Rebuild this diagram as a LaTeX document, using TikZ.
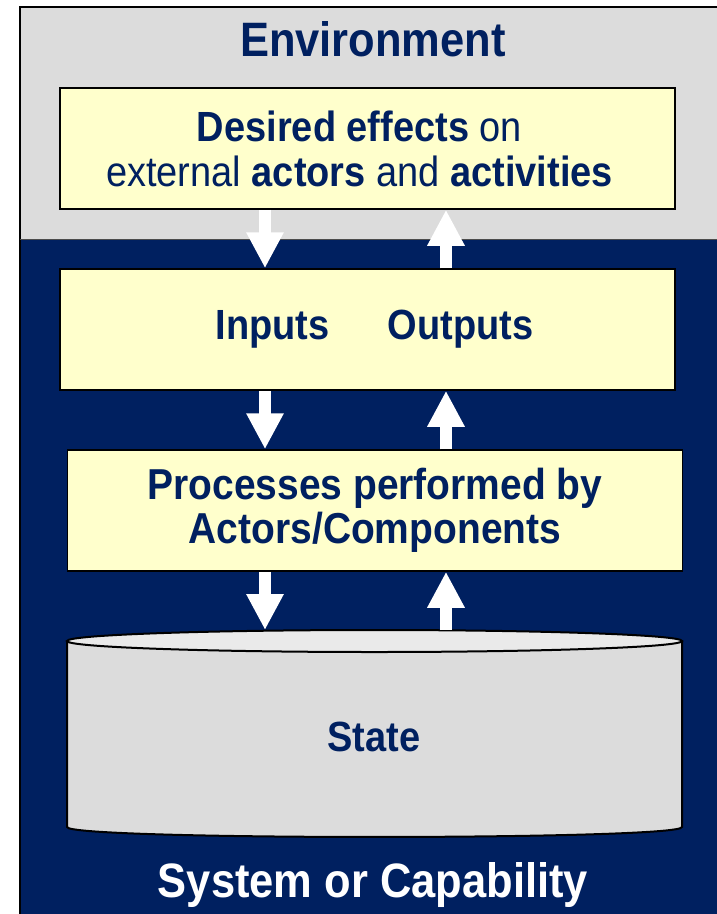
\documentclass[tikz,border=0pt]{standalone}
\usepackage{fontspec}
\setmainfont[FakeStretch=0.9]{Liberation Sans}
\usepackage{tikz}
\usetikzlibrary{arrows.meta, positioning, calc}
\definecolor{sysnavy}{RGB}{0,32,96}
\definecolor{envgrey}{RGB}{220,220,220}
\definecolor{paleyellow}{RGB}{255,255,204}
\definecolor{lidgrey}{RGB}{234,234,234}

\begin{document}
\begin{tikzpicture}[x=1pt, y=-1pt]
        \tikzstyle{block}=[draw=black, line width=1.5pt, fill=paleyellow, text=sysnavy, minimum width=615pt, minimum height=121pt, inner sep=0pt, align=center, font=\fontsize{42.2}{45}\selectfont]
        \tikzstyle{title}=[inner sep=0pt, anchor=base, font=\bfseries\fontsize{48.3}{50}\selectfont]
        \tikzstyle{flow}=[white, line width=12pt, -{Triangle[width=35pt, length=36pt]}]

        \useasboundingbox (0,0) rectangle (717,914);
        \clip (0,0) rectangle (717,914);

        % Environment and system areas
        \fill[sysnavy] (20,239) rectangle (740,930);
        \fill[envgrey] (20,7) rectangle (740,239);
        \draw[line width=2pt] (20,930) -- (20,7) -- (740,7);
        \draw[line width=1pt, black!70] (20,239) -- (740,239);

        \node[title, text=sysnavy] (env) at (373,56) {Environment};
        \node[title, text=white] (sys) at (373,897) {System or Capability};

        % Boxes
        \node[block] (effects) at (367.5,148.5) {\hspace*{-16pt}\textbf{Desired effects} on\\\hspace*{-16pt}external \textbf{actors} and \textbf{activities}};
        \node[block] (io) at (367.5,329.5) {\bfseries \hspace*{14pt}Inputs\hspace{58pt}Outputs};
        \node[block, font=\bfseries\fontsize{43.3}{44}\selectfont] (procs) at (375,510.5) {Processes performed by\\Actors/Components};

        % State store
        \fill[envgrey] (67,641) -- (67,827) .. controls (67,840.3) and (682,840.3) .. (682,827) -- (682,641) -- cycle;
        \draw[line width=2pt] (67,641) -- (67,827) .. controls (67,840.3) and (682,840.3) .. (682,827) -- (682,641);
        \draw[line width=2pt, fill=lidgrey] (374.5,641) ellipse [x radius=307.5, y radius=11];
        \coordinate (statetop) at (374.5,630);
        \node[title, text=sysnavy, font=\bfseries\fontsize{42.2}{45}\selectfont] (state) at (374,751) {State};

        % Flow arrows
        \coordinate (downx) at (265,0);
        \coordinate (upx) at (446,0);
        \draw[flow] (effects.south -| downx) -- (io.north -| downx);
        \draw[flow] (io.north -| upx) -- (effects.south -| upx);
        \draw[flow] (io.south -| downx) -- (procs.north -| downx);
        \draw[flow] (procs.north -| upx) -- (io.south -| upx);
        \draw[flow] (procs.south -| downx) -- (statetop -| downx);
        \draw[flow] (statetop -| upx) -- (procs.south -| upx);
\end{tikzpicture}
\end{document}
